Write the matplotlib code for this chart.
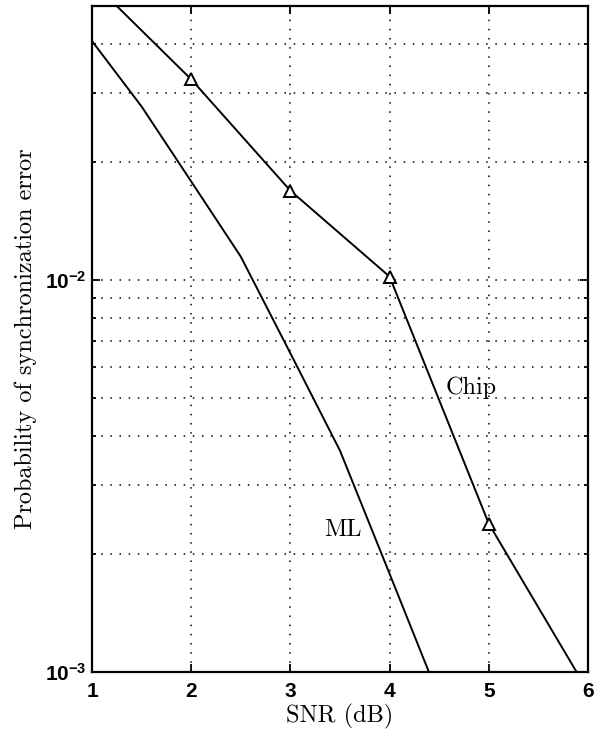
import matplotlib
matplotlib.use("Agg")
import matplotlib.pyplot as plt
from matplotlib.ticker import LogLocator, NullFormatter, FixedLocator

# values
snr_chip = [1, 2, 3, 4, 5, 6]
p_chip = [0.0577, 0.0325, 0.0169, 0.0102, 0.00239, 0.000893]
snr_chip_markers = [2, 3, 4, 5]
p_chip_markers = [0.0325, 0.0169, 0.0102, 0.00239]

snr_ml = [1, 1.5, 2, 2.5, 3, 3.5, 4, 4.5]
p_ml = [0.0407, 0.0277, 0.01784, 0.01147, 0.0065, 0.00367, 0.00178, 0.00086]

x_ticks = [1, 2, 3, 4, 5, 6]

plt.rcParams["font.family"] = "Liberation Sans"
plt.rcParams["font.weight"] = "bold"
plt.rcParams["mathtext.fontset"] = "custom"
plt.rcParams["mathtext.rm"] = "Liberation Sans:bold"
plt.rcParams["mathtext.it"] = "Liberation Sans:bold"
plt.rcParams["mathtext.bf"] = "Liberation Sans:bold"

fig = plt.figure(figsize=(5.94, 7.33), dpi=100)
ax = fig.add_axes([0.1549, 0.0832, 0.835, 0.9086])

ax.plot(snr_chip, p_chip, color="black", lw=1.4)
ax.plot(snr_chip_markers, p_chip_markers, ls="none", marker="^", ms=8,
        mfc="white", mec="black", mew=1.4)
ax.plot(snr_ml, p_ml, color="black", lw=1.4)

ax.set_yscale("log")
ax.set_xlim(1, 6)
ax.set_ylim(1e-3, 0.05)
ax.xaxis.set_major_locator(FixedLocator(x_ticks))
ax.yaxis.set_major_locator(LogLocator(base=10))
ax.yaxis.set_minor_locator(LogLocator(base=10, subs=range(2, 10)))
ax.yaxis.set_minor_formatter(NullFormatter())

ax.grid(True, which="major", axis="both", color="black", ls=(0, (1, 5)), lw=1.1)
ax.grid(True, which="minor", axis="y", color="black", ls=(0, (1, 5)), lw=1.1)

ax.tick_params(which="both", direction="in", top=True, right=True,
               labelsize=15, width=1.3)
ax.tick_params(which="major", length=6)
ax.tick_params(which="minor", length=3)
ax.tick_params(axis="x", pad=7)
ax.tick_params(axis="y", pad=4)
for s in ax.spines.values():
    s.set_linewidth(1.6)

ax.set_xlabel("SNR (dB)", family="cmr10", fontsize=17.5, weight="normal",
              labelpad=2)
ax.set_ylabel("Probability of synchronization error", family="cmr10",
              fontsize=17.5, weight="normal", labelpad=6)

ax.text(4.82, 0.00532, "Chip", family="cmr10", fontsize=17.5, ha="center",
        va="center", weight="normal")
ax.text(3.53, 0.0023, "ML", family="cmr10", fontsize=17.5, ha="center",
        va="center", weight="normal")

fig.savefig("out.png", dpi=100)
